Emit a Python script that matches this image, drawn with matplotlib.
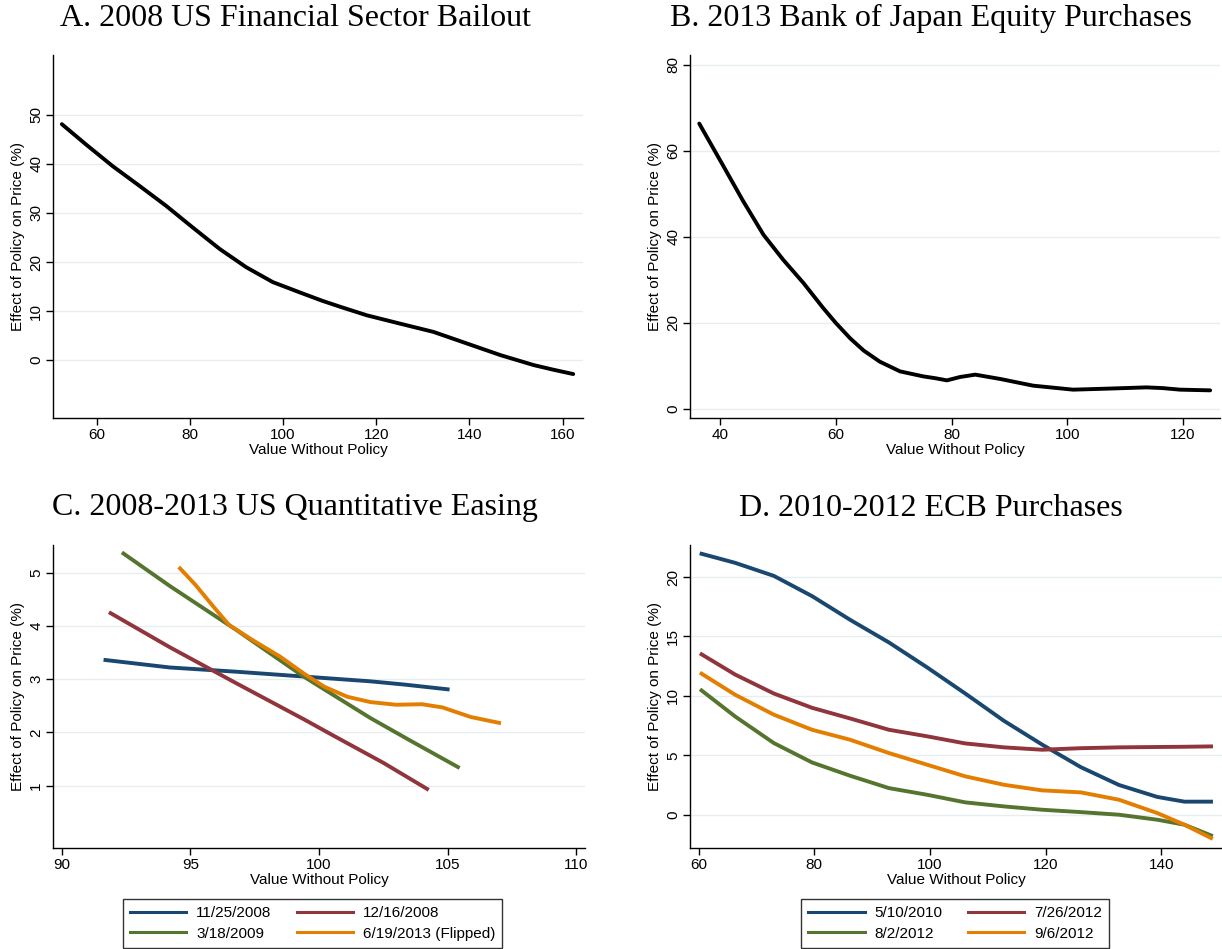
import matplotlib
matplotlib.use("Agg")
import matplotlib.pyplot as plt

plt.rcParams['font.family'] = ['Liberation Sans', 'DejaVu Sans']

# colours (Stata s2color)
navy = '#1a476f'
maroon = '#90353b'
green = '#55752f'
orange = '#e37e00'
gridc = '#e6eef0'

# Panel A: 2008 US financial sector bailout
a_x = [52.5, 57.7, 63.4, 69.2, 74.9, 80.6, 86.4, 92.1, 97.8, 103.6, 108.4, 112.5, 118.0, 125.1, 132.3, 139.5, 146.7, 153.8, 158.0, 162.3]
a_y = [48.1, 43.95, 39.55, 35.5, 31.44, 27.04, 22.65, 18.93, 15.9, 13.8, 12.1, 10.8, 9.13, 7.44, 5.75, 3.38, 1.01, -1.01, -1.95, -2.84]

# Panel B: 2013 Bank of Japan equity purchases
b_x = [36.4, 40.6, 44.0, 47.5, 50.9, 54.4, 57.8, 60.0, 62.5, 64.8, 67.6, 71.1, 75.1, 77.2, 79.2, 81.5, 84.1, 88.4, 94.1, 101.0, 106.8, 113.7, 116.5, 119.5, 124.7]
b_y = [66.35, 56.4, 48.3, 40.5, 34.7, 29.3, 23.5, 20.0, 16.4, 13.6, 11.0, 8.74, 7.58, 7.15, 6.65, 7.44, 7.98, 6.98, 5.42, 4.49, 4.72, 5.02, 4.85, 4.49, 4.33]

# Panel C: 2008-2013 US quantitative easing
c_labels = ['11/25/2008', '12/16/2008', '3/18/2009', '6/19/2013 (Flipped)']
c_blue_x = [91.7, 94.2, 96.8, 99.4, 102.0, 103.3, 105.0]
c_blue_y = [3.36, 3.22, 3.14, 3.05, 2.96, 2.90, 2.81]
c_red_x = [91.9, 94.2, 96.8, 99.4, 100.6, 102.5, 104.2]
c_red_y = [4.24, 3.60, 2.92, 2.25, 1.93, 1.43, 0.94]
c_green_x = [92.4, 94.2, 96.8, 99.4, 102.0, 103.5, 105.4]
c_green_y = [5.36, 4.75, 3.92, 3.05, 2.27, 1.86, 1.35]
c_orange_x = [94.6, 95.2, 95.9, 96.5, 97.4, 98.5, 99.4, 100.2, 101.1, 102.0, 103.0, 104.0, 104.8, 105.9, 107.0]
c_orange_y = [5.08, 4.77, 4.36, 4.02, 3.74, 3.42, 3.11, 2.86, 2.67, 2.57, 2.52, 2.53, 2.47, 2.29, 2.18]

# Panel D: 2010-2012 ECB purchases
d_labels = ['5/10/2010', '7/26/2012', '8/2/2012', '9/6/2012']
d_x = [60.5, 66.3, 73, 79.6, 86.2, 92.9, 99.5, 106.1, 112.8, 119.4, 126.1, 132.7, 139.3, 144, 148.6]
d_blue = [21.96, 21.2, 20.1, 18.4, 16.4, 14.5, 12.4, 10.2, 7.9, 5.9, 4.0, 2.5, 1.5, 1.1, 1.1]
d_red = [13.5, 11.8, 10.2, 9.0, 8.1, 7.15, 6.6, 6.0, 5.67, 5.47, 5.6, 5.67, 5.7, 5.72, 5.75]
d_green = [10.46, 8.27, 6.03, 4.4, 3.28, 2.24, 1.68, 1.04, 0.7, 0.42, 0.22, 0.0, -0.42, -0.84, -1.74]
d_orange = [11.87, 10.1, 8.42, 7.15, 6.31, 5.19, 4.21, 3.23, 2.52, 2.05, 1.88, 1.26, 0.14, -0.84, -1.96]

W, H = 1222, 949
fig = plt.figure(figsize=(W / 100, H / 100), dpi=100)


def make_ax(l, r, t, b):
    return fig.add_axes([l / W, 1 - b / H, (r - l) / W, (b - t) / H])


def style(ax, xlim, ylim, xt, yt):
    ax.set_xlim(*xlim)
    ax.set_ylim(*ylim)
    ax.set_xticks(xt)
    ax.set_yticks(yt)
    for s in ['top', 'right']:
        ax.spines[s].set_visible(False)
    for s in ['left', 'bottom']:
        ax.spines[s].set_linewidth(1.0)
    ax.grid(axis='y', color=gridc, linewidth=1.0)
    ax.set_axisbelow(True)
    ax.tick_params(labelsize=11, length=5, width=1, pad=2)
    for lab in ax.get_yticklabels():
        lab.set_rotation(90)
        lab.set_va('center')
    ax.set_xlabel('Value Without Policy', fontsize=11, labelpad=1)
    ax.set_ylabel('Effect of Policy on Price (%)', fontsize=11, labelpad=3)


lw = 2.8
title_kw = dict(fontsize=23, family='Liberation Serif', ha='center', va='center')

axA = make_ax(53, 583, 55, 418)
axA.plot(a_x, a_y, color='black', lw=lw, solid_capstyle='round', solid_joinstyle='round')
style(axA, (50.6, 164.4), (-11.8, 62.2), [60, 80, 100, 120, 140, 160], [0, 10, 20, 30, 40, 50])
fig.text(296 / W, 1 - 18 / H, 'A. 2008 US Financial Sector Bailout', **title_kw)

axB = make_ax(690, 1220, 55, 418)
axB.plot(b_x, b_y, color='black', lw=lw, solid_capstyle='round', solid_joinstyle='round')
style(axB, (34.8, 126.4), (-2.1, 82.3), [40, 60, 80, 100, 120], [0, 20, 40, 60, 80])
fig.text(931 / W, 1 - 18 / H, 'B. 2013 Bank of Japan Equity Purchases', **title_kw)

axC = make_ax(53, 585, 545, 848)
hc = []
for xs, ys, col, lab in [(c_blue_x, c_blue_y, navy, c_labels[0]),
                         (c_red_x, c_red_y, maroon, c_labels[1]),
                         (c_green_x, c_green_y, green, c_labels[2]),
                         (c_orange_x, c_orange_y, orange, c_labels[3])]:
    hc += axC.plot(xs, ys, color=col, lw=lw, label=lab, solid_joinstyle='round')
style(axC, (89.66, 110.34), (-0.17, 5.52), [90, 95, 100, 105, 110], [1, 2, 3, 4, 5])
fig.text(295 / W, 1 - 508 / H, 'C. 2008-2013 US Quantitative Easing', **title_kw)

axD = make_ax(690, 1222, 545, 848)
hd = []
for ys, col, lab in [(d_blue, navy, d_labels[0]), (d_red, maroon, d_labels[1]),
                     (d_green, green, d_labels[2]), (d_orange, orange, d_labels[3])]:
    hd += axD.plot(d_x, ys, color=col, lw=lw, label=lab, solid_joinstyle='round')
style(axD, (58.5, 150.5), (-2.8, 22.7), [60, 80, 100, 120, 140], [0, 5, 10, 15, 20])
fig.text(931 / W, 1 - 508 / H, 'D. 2010-2012 ECB Purchases', **title_kw)

# legends filled row by row, as in the original
for ax, hs, cx in [(axC, hc, 312.5), (axD, hd, 955)]:
    order = [hs[0], hs[2], hs[1], hs[3]]
    leg = ax.legend(order, [h.get_label() for h in order],
                    loc='upper center', bbox_to_anchor=(cx / W, 1 - 899 / H),
                    bbox_transform=fig.transFigure, ncol=2, fontsize=11,
                    frameon=True, fancybox=False, edgecolor='black',
                    handlelength=3.7, handletextpad=0.65, columnspacing=1.65,
                    borderpad=0.45, labelspacing=0.45, borderaxespad=0)
    leg.get_frame().set_linewidth(1.0)
    for ln in leg.get_lines():
        ln.set_linewidth(2.2)

fig.savefig('out.png', dpi=100)
